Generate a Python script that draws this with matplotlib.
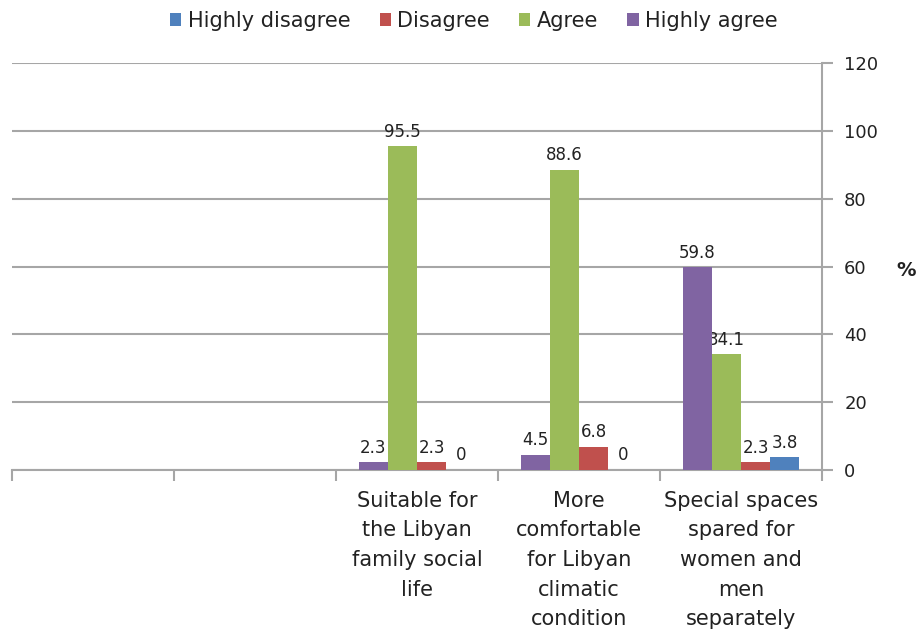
import matplotlib
matplotlib.use("Agg")
import matplotlib.pyplot as plt
import numpy as np

categories = [
    "Special spaces\nspared for\nwomen and\nmen\nseparately",
    "More\ncomfortable\nfor Libyan\nclimatic\ncondition",
    "Suitable for\nthe Libyan\nfamily social\nlife",
    "",
    "",
]
series_names = ["Highly disagree", "Disagree", "Agree", "Highly agree"]
highly_disagree = [3.8, 0, 0, np.nan, np.nan]
disagree = [2.3, 6.8, 2.3, np.nan, np.nan]
agree = [34.1, 88.6, 95.5, np.nan, np.nan]
highly_agree = [59.8, 4.5, 2.3, np.nan, np.nan]
series_values = [highly_disagree, disagree, agree, highly_agree]
colors = ["#4F81BD", "#C0504D", "#9BBB59", "#8064A2"]
yticks = [0, 20, 40, 60, 80, 100, 120]

fig = plt.figure(figsize=(9.2, 6.32), dpi=100)
ax = fig.add_axes([0.013, 0.2563, 0.8805, 0.644])

n = len(categories)
x = np.arange(n)
w = 0.18
grid_color = "#A6A6A6"
text_color = "#222222"

handles = []
for i, (name, vals, c) in enumerate(zip(series_names, series_values, colors)):
    off = (i - 1.5) * w
    vals = np.array(vals, dtype=float)
    bars = ax.bar(x + off, vals, width=w, color=c, label=name, zorder=3)
    handles.append(bars)
    for xi, v in zip(x + off, vals):
        if np.isnan(v):
            continue
        lab = f"{v:g}" if v != 0 else "0"
        ax.annotate(lab, (xi, v), xytext=(0, 4), textcoords="offset points",
                    ha="center", va="bottom", fontsize=12, color=text_color,
                    fontfamily="DejaVu Sans")

ax.set_xlim(-0.5, n - 0.5)
ax.invert_xaxis()
ax.set_ylim(0, 120)
ax.set_yticks(yticks)
ax.yaxis.tick_right()
ax.tick_params(axis="y", direction="out", length=8, width=1.5, color=grid_color,
               labelsize=13, labelcolor=text_color, pad=8)
ax.grid(axis="y", color=grid_color, linewidth=1.5, zorder=0)

# category boundaries as major ticks, labels at centres via minor ticks
ax.set_xticks(np.arange(-0.5, n, 1.0))
ax.set_xticklabels([])
ax.set_xticks(x, minor=True)
ax.set_xticklabels(categories, minor=True, fontsize=15, color=text_color,
                   linespacing=1.6, va="top")
ax.tick_params(axis="x", which="major", direction="out", length=8, width=1.5,
               color=grid_color)
ax.tick_params(axis="x", which="minor", length=0, pad=15)

for s in ["top", "left"]:
    ax.spines[s].set_visible(False)
ax.spines["bottom"].set_color(grid_color)
ax.spines["bottom"].set_linewidth(1.5)
ax.spines["right"].set_color(grid_color)
ax.spines["right"].set_linewidth(1.5)

fig.text(906 / 920, 1 - 270 / 632, "%", ha="center", va="center", fontsize=14,
         fontweight="bold", color=text_color)

leg = fig.legend(handles=handles, labels=series_names, loc="center",
                 bbox_to_anchor=(0.515, 0.967), ncol=4, frameon=False,
                 prop={"family": "DejaVu Sans", "size": 15},
                 handlelength=0.55, handleheight=0.55, handletextpad=0.3,
                 columnspacing=1.4)
for t in leg.get_texts():
    t.set_color(text_color)

fig.savefig("out.png", dpi=100)
